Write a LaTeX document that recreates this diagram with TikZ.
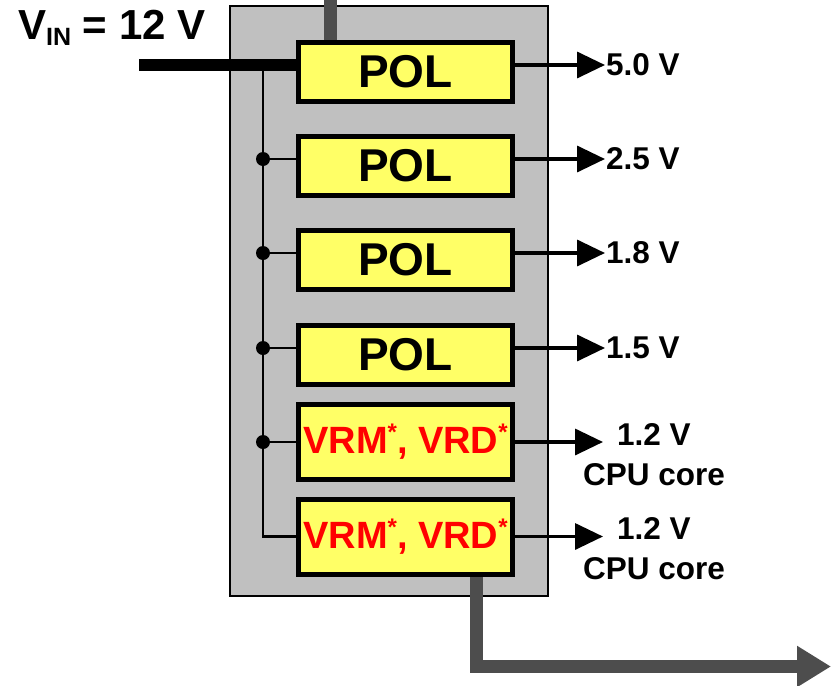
\documentclass[tikz,border=0pt]{standalone}
\usepackage{fontspec}
\setmainfont{Liberation Sans}
\usetikzlibrary{arrows.meta, backgrounds}
\definecolor{BoardGray}{HTML}{C0C0C0}
\definecolor{PolYellow}{HTML}{FFFF66}
\definecolor{FeedGray}{HTML}{4D4D4D}
\definecolor{VrmRed}{HTML}{FF0000}

\begin{document}
\begin{tikzpicture}[x=1pt, y=-1pt,
          blk/.style={rectangle, draw=black, line width=5pt, fill=PolYellow,
                      minimum width=214pt, inner sep=0pt},
          pol/.style={blk, minimum height=59pt,
                      font=\fontsize{46}{46}\selectfont\bfseries},
          vrm/.style={blk, minimum height=75pt, text=VrmRed,
                      font=\fontsize{38}{38}\selectfont\bfseries},
          jn/.style={circle, fill=black, inner sep=0pt, minimum size=14pt},
          lbl/.style={anchor=west, inner sep=1pt,
                      font=\fontsize{31.5}{40}\selectfont\bfseries},
          cpu/.style={align=center, inner sep=0pt,
                      font=\fontsize{31.5}{40}\selectfont\bfseries},
          arr/.style={-{Triangle[length=28pt, width=26pt]}, line width=3.5pt},
          bus/.style={line width=2.5pt},
          fat/.style={line width=13pt, draw=FeedGray}
        ]
        \useasboundingbox (0,0) rectangle (831,686);

        % Converters top to bottom
        \node[pol] (p1) at (405.5, 72)  {POL};
        \node[pol] (p2) at (405.5, 166) {POL};
        \node[pol] (p3) at (405.5, 260) {POL};
        \node[pol] (p4) at (405.5, 355) {POL};
        \node[vrm] (v1) at (405.5, 442)
              {VRM\raisebox{13pt}{\fontsize{24}{24}\selectfont *}, VRD\raisebox{13pt}{\fontsize{24}{24}\selectfont *}};
        \node[vrm] (v2) at (405.5, 536.5)
              {VRM\raisebox{13pt}{\fontsize{24}{24}\selectfont *}, VRD\raisebox{13pt}{\fontsize{24}{24}\selectfont *}};

        % Input
        \node[anchor=base west, inner sep=0pt,
              font=\fontsize{42}{42}\selectfont\bfseries] (vin) at (18, 39)
              {V\raisebox{-6pt}{\fontsize{25}{25}\selectfont IN} = 12 V};
        \coordinate (vs) at (139, 65);
        \coordinate (bt) at (263, 65);
        \coordinate (top) at (330, 0);
        \coordinate (out) at (831, 666.5);

        \begin{scope}[on background layer]
          \draw[line width=2.5pt, fill=BoardGray] (230, 6) rectangle (548, 596);
          \draw[fat] (top) -- ([xshift=-75.5pt]p1.north);
          \draw[fat, -{Triangle[length=34pt, width=39pt]}]
                ([xshift=70.5pt]v2.south) |- (out);
        \end{scope}

        \draw[line width=12pt] (vs) -- ([yshift=7pt]p1.west);

        % Supply bus
        \node[jn] (d2) at (263, 159) {};
        \node[jn] (d3) at (263, 253) {};
        \node[jn] (d4) at (263, 348) {};
        \node[jn] (d5) at (263, 442) {};
        \draw[bus] (bt) |- (v2.west);
        \draw[bus] (d2) -- ([yshift=7pt]p2.west);
        \draw[bus] (d3) -- ([yshift=7pt]p3.west);
        \draw[bus] (d4) -- ([yshift=7pt]p4.west);
        \draw[bus] (d5) -- (v1.west);

        % Outputs
        \node[lbl] (o1) at (605, 65)  {5.0 V};
        \node[lbl] (o2) at (605, 159) {2.5 V};
        \node[lbl] (o3) at (605, 253) {1.8 V};
        \node[lbl] (o4) at (605, 348) {1.5 V};
        \node[cpu] (o5) at (654, 455) {1.2 V\\CPU core};
        \node[cpu] (o6) at (654, 549) {1.2 V\\CPU core};
        \coordinate (t5) at (603, 442);
        \coordinate (t6) at (603, 536.5);

        \draw[arr] ([yshift=7pt]p1.east) -- (o1.west);
        \draw[arr] ([yshift=7pt]p2.east) -- (o2.west);
        \draw[arr] ([yshift=7pt]p3.east) -- (o3.west);
        \draw[arr] ([yshift=7pt]p4.east) -- (o4.west);
        \draw[arr] (v1.east) -- (t5);
        \draw[arr] (v2.east) -- (t6);
      \end{tikzpicture}
\end{document}
